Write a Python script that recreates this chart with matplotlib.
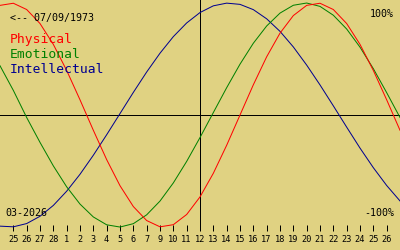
import matplotlib
matplotlib.use("Agg")
import matplotlib.pyplot as plt

# day labels under the chart (the "8" is missing in the original)
tick_labels = ['25', '26', '27', '28', '1', '2', '3', '4', '5', '6', '7', '9',
               '10', '11', '12', '13', '14', '15', '16', '17', '18', '19', '20',
               '21', '22', '23', '24', '25', '26']
tick_pos = list(range(1, len(tick_labels) + 1))
today_pos = 15

# cycle values (-1 .. 1), one per day position 0..30
days = list(range(31))
physical = [0.979, 0.998, 0.942, 0.817, 0.631, 0.398, 0.136, -0.136, -0.398,
            -0.631, -0.817, -0.942, -0.998, -0.979, -0.888, -0.731, -0.520,
            -0.270, 0.0, 0.270, 0.520, 0.731, 0.888, 0.979, 0.998, 0.942,
            0.817, 0.631, 0.398, 0.136, -0.136]
emotional = [0.440, 0.220, -0.022, -0.244, -0.454, -0.641, -0.795, -0.910,
             -0.980, -1.000, -0.970, -0.891, -0.768, -0.606, -0.414, -0.201,
             0.022, 0.244, 0.454, 0.641, 0.795, 0.910, 0.980, 1.000, 0.970,
             0.891, 0.768, 0.606, 0.414, 0.200, -0.022]
intellectual = [-0.992, -0.998, -0.969, -0.904, -0.807, -0.680, -0.529, -0.359,
                -0.176, 0.013, 0.202, 0.384, 0.552, 0.700, 0.822, 0.915, 0.975,
                0.999, 0.988, 0.941, 0.859, 0.747, 0.608, 0.446, 0.269, 0.082,
                -0.108, -0.295, -0.470, -0.629, -0.767]

bg = '#e0d282'
mono = 'DejaVu Sans Mono'
px1 = 0.72  # one pixel in points

fig = plt.figure(figsize=(4, 2.5), dpi=100, facecolor=bg)
ax = fig.add_axes([0, 0, 1, 1])
ax.set_facecolor(bg)
ax.set_xlim(0, 30)
ax.set_ylim(-1.205, 1.027)
ax.set_xticks([])
ax.set_yticks([])
for s in ax.spines.values():
    s.set_visible(False)

ax.axhline(0, color='black', lw=px1, antialiased=False)
ax.axvline(today_pos, ymin=0.088, ymax=1, color='black', lw=px1, antialiased=False)

ax.plot(days, intellectual, color='#000090', lw=px1)
ax.plot(days, emotional, color='#008000', lw=px1)
ax.plot(days, physical, color='#ff0000', lw=px1)

# day ticks on a secondary axis a bit above the bottom edge
sec = ax.secondary_xaxis(0.076)
sec.set_xticks(tick_pos, tick_labels)
sec.tick_params(direction='in', length=4.5, width=px1, pad=3,
                labelsize=6.2, colors='black')
for lab in sec.get_xticklabels():
    lab.set_family(mono)
sec.spines['bottom'].set_visible(False)

def px(x, y):
    return x / 400, 1 - y / 250

fig.text(*px(10, 20.5), '<-- 07/09/1973', family=mono, size=7.2, va='baseline')
fig.text(*px(10, 43), 'Physical', family=mono, size=9.4, color='#ff0000', va='baseline')
fig.text(*px(10, 58), 'Emotional', family=mono, size=9.4, color='#008000', va='baseline')
fig.text(*px(10, 73), 'Intellectual', family=mono, size=9.4, color='#000090', va='baseline')
fig.text(*px(394, 17), '100%', family=mono, size=7.2, ha='right', va='baseline')
fig.text(*px(394, 216), '-100%', family=mono, size=7.2, ha='right', va='baseline')
fig.text(*px(5, 216), '03-2026', family=mono, size=7.2, va='baseline')

fig.savefig('out.png', dpi=100, facecolor=bg)
